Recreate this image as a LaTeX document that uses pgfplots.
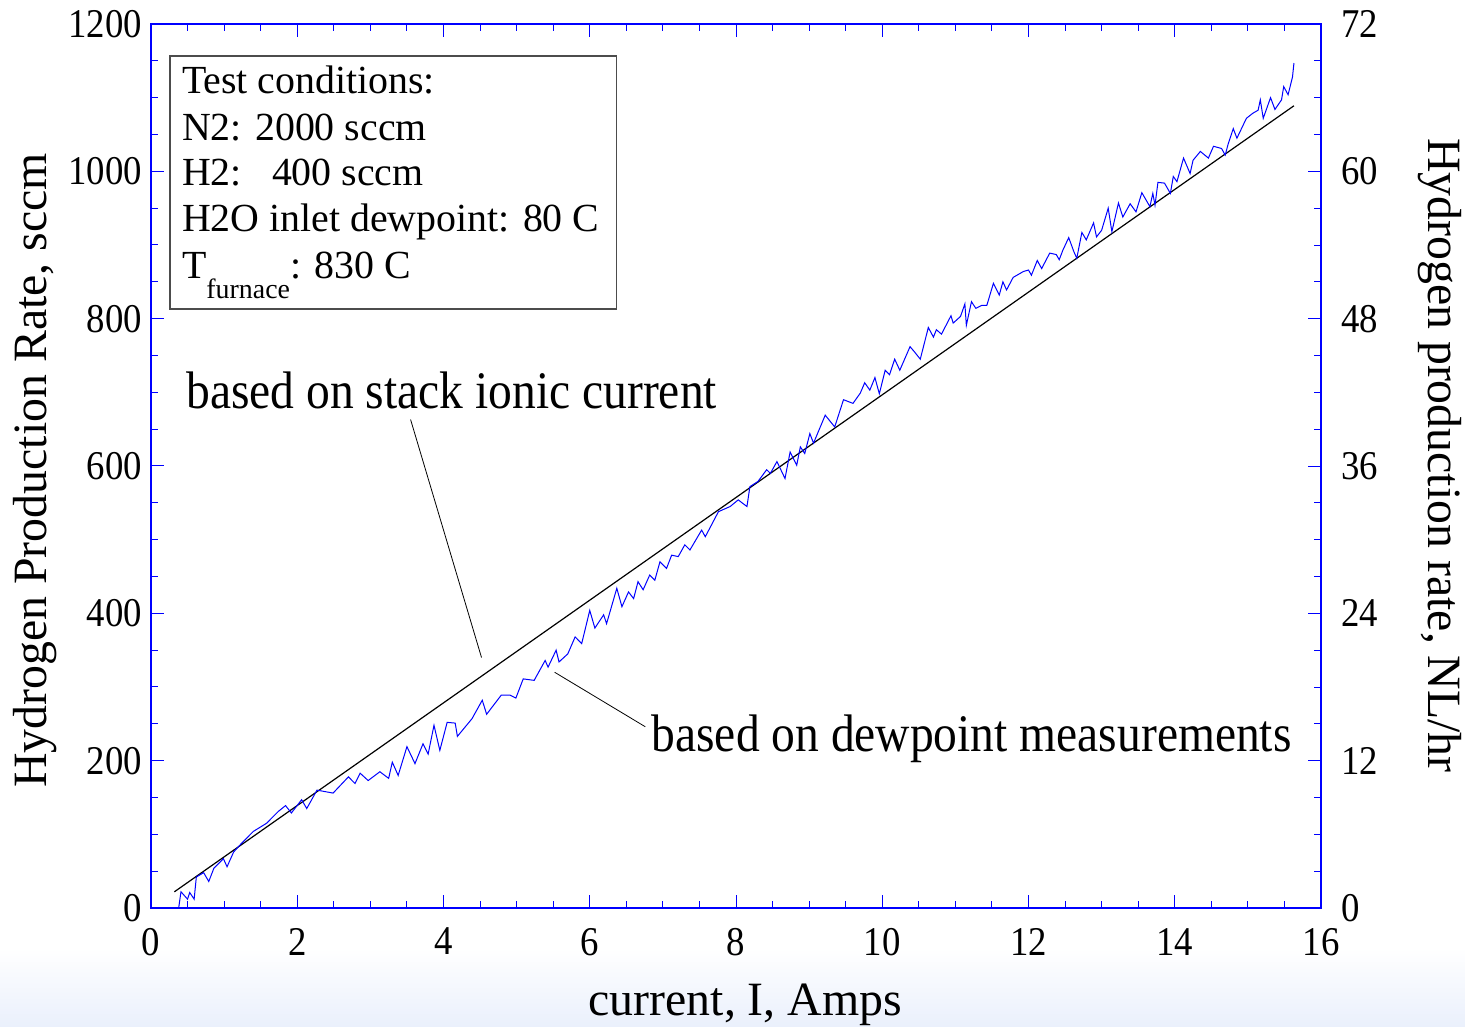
\documentclass[border=0pt]{standalone}
\usepackage{fontspec}
\setmainfont{Liberation Serif}
\newfontfamily\narrowfont[FakeStretch=0.9]{Liberation Serif}
\usepackage{pgfplots}
\pgfplotsset{compat=1.18}
\definecolor{bgblue}{RGB}{234,240,252}
\begin{document}
\begin{tikzpicture}
\shade[top color=white, bottom color=bgblue] (-75.5bp,-59.5bp) rectangle (657bp,-20bp);
\path[use as bounding box] (-75.5bp,-59.5bp) rectangle (657bp,454bp);
\begin{axis}[
  at={(0,0)}, anchor=south west,
  scale only axis, width=585bp, height=442bp,
  xmin=0, xmax=16, ymin=0, ymax=1200,
  xtick={0,2,...,16}, minor x tick num=3,
  ytick={0,200,...,1200}, minor y tick num=3,
  tick align=inside, xtick pos=both, ytick pos=left,
  axis line style={blue, line width=0.6bp},
  every tick/.style={blue, line width=0.5bp},
  major tick length=6.5bp, minor tick length=3.5bp,
  /pgf/number format/assume math mode=true,
  /pgf/number format/1000 sep={},
  tick label style={font=\narrowfont\fontsize{20.5}{24}\selectfont, black},
  xticklabel style={yshift=-6.5bp},
  yticklabel style={xshift=-1bp},
  xlabel={current, I, Amps},
  xlabel style={at={(axis description cs:0.508,-0.109)}, anchor=center, font=\fontsize{24}{28}\selectfont},
  ylabel={Hydrogen Production Rate, sccm},
  ylabel style={at={(axis description cs:-0.099,0.495)}, anchor=center, font=\fontsize{24}{28}\selectfont},
  clip=false,
]
\addplot[black, line width=0.6bp] coordinates {(0.32,22) (15.63,1089)};
\addplot[blue, line width=0.5bp] coordinates {
(0.38,1) (0.41,22) (0.50,12) (0.53,21) (0.59,12) (0.62,42) (0.72,48) (0.79,36) (0.86,54)
(0.99,67) (1.04,56) (1.13,76) (1.24,88) (1.40,104) (1.58,115) (1.74,131) (1.84,139) (1.92,129)
(2.06,147) (2.13,135) (2.27,160) (2.49,156) (2.70,178) (2.79,169) (2.86,183) (2.97,173)
(3.13,185) (3.25,176) (3.30,198) (3.38,180) (3.50,219) (3.61,196) (3.72,223) (3.79,209)
(3.87,248) (3.95,214) (4.05,252) (4.16,251) (4.19,233) (4.39,257) (4.53,282) (4.59,263)
(4.79,289) (4.91,289) (4.99,285) (5.09,311) (5.24,309) (5.39,336) (5.43,327) (5.54,350)
(5.58,334) (5.70,345) (5.80,368) (5.89,359) (6.00,404) (6.07,380) (6.19,398) (6.23,386)
(6.37,434) (6.44,409) (6.53,429) (6.60,420) (6.66,443) (6.73,432) (6.82,452) (6.89,445)
(6.96,470) (7.05,461) (7.12,479) (7.21,477) (7.30,493) (7.37,486) (7.53,513) (7.58,504)
(7.76,538) (7.92,545) (8.03,554) (8.15,545) (8.19,572) (8.30,579) (8.42,595) (8.47,590)
(8.56,606) (8.67,583) (8.74,619) (8.83,601) (8.88,626) (8.94,617) (9.01,644) (9.06,631)
(9.22,669) (9.35,653) (9.47,690) (9.60,685) (9.70,699) (9.76,713) (9.83,703) (9.90,720)
(9.96,698) (10.04,730) (10.10,724) (10.17,745) (10.24,730) (10.38,762) (10.44,755) (10.52,745)
(10.63,788) (10.70,775) (10.74,785) (10.81,779) (10.94,804) (10.97,794) (11.07,803) (11.13,820)
(11.15,791) (11.22,823) (11.28,814) (11.36,818) (11.43,818) (11.52,848) (11.60,832) (11.65,850)
(11.70,839) (11.79,856) (11.93,864) (12.00,866) (12.04,859) (12.12,879) (12.18,868) (12.29,889)
(12.38,887) (12.42,880) (12.47,893) (12.55,910) (12.62,891) (12.66,882) (12.73,917) (12.79,907)
(12.89,930) (12.93,911) (13.00,920) (13.09,950) (13.14,918) (13.23,957) (13.29,938) (13.39,956)
(13.47,945) (13.55,971) (13.62,959) (13.66,952) (13.70,970) (13.73,954) (13.77,985) (13.86,984)
(13.94,970) (13.98,993) (14.03,986) (14.12,1018) (14.21,997) (14.25,1015) (14.35,1027) (14.46,1018)
(14.53,1034) (14.64,1031) (14.69,1022) (14.73,1037) (14.80,1058) (14.85,1045) (14.98,1072) (15.07,1079)
(15.14,1083) (15.17,1097) (15.21,1072) (15.31,1100) (15.37,1084) (15.46,1097) (15.49,1115) (15.55,1104)
(15.61,1128) (15.63,1147)
};
% info box
\draw[black!70, line width=0.6bp] (axis cs:0.26,1156.5) rectangle (axis cs:6.37,813);
\node[anchor=base west, inner sep=0, font=\fontsize{20}{24}\selectfont] at (axis cs:0.42,1105.9) {Test conditions:};
\node[anchor=base west, inner sep=0, font=\fontsize{20}{24}\selectfont] at (axis cs:0.42,1042.5) {N2: 2000 sccm};
\node[anchor=base west, inner sep=0, font=\fontsize{20}{24}\selectfont] at (axis cs:0.42,980.5) {H2:};
\node[anchor=base west, inner sep=0, font=\fontsize{20}{24}\selectfont] at (axis cs:1.65,980.5) {400 sccm};
\node[anchor=base west, inner sep=0, font=\fontsize{20}{24}\selectfont] at (axis cs:0.42,918.0) {H2O inlet dewpoint: 80 C};
\node[anchor=base west, inner sep=0, font=\fontsize{20}{24}\selectfont] at (axis cs:0.42,854.8) {T\raisebox{-10bp}{\fontsize{14}{16}\selectfont furnace}: 830 C};
% annotations
\node[anchor=base west, inner sep=0, font=\narrowfont\fontsize{26.5}{30}\selectfont] at (axis cs:0.48,678) {based on stack ionic current};
\draw[black, line width=0.4bp] (axis cs:3.55,663) -- (axis cs:4.52,340);
\node[anchor=base west, inner sep=0, font=\narrowfont\fontsize{26.5}{30}\selectfont] at (axis cs:6.84,213) {based on dewpoint measurements};
\draw[black, line width=0.4bp] (axis cs:5.52,320) -- (axis cs:6.76,246);
\end{axis}
\begin{axis}[
  at={(0,0)}, anchor=south west,
  scale only axis, width=585bp, height=442bp,
  xmin=0, xmax=16, ymin=0, ymax=72,
  hide x axis, axis y line*=right,
  ytick={0,12,...,72}, minor y tick num=3,
  tick align=inside,
  axis line style={blue, line width=0.6bp},
  every tick/.style={blue, line width=0.5bp},
  major tick length=6.5bp, minor tick length=3.5bp,
  /pgf/number format/assume math mode=true,
  tick label style={font=\narrowfont\fontsize{20.5}{24}\selectfont, black},
  yticklabel style={xshift=6.5bp},
  ylabel={Hydrogen production rate, NL/hr},
  ylabel style={at={(axis description cs:1.102,0.512)}, anchor=center, rotate=180, font=\fontsize{24}{28}\selectfont},
]
\end{axis}
\end{tikzpicture}
\end{document}
